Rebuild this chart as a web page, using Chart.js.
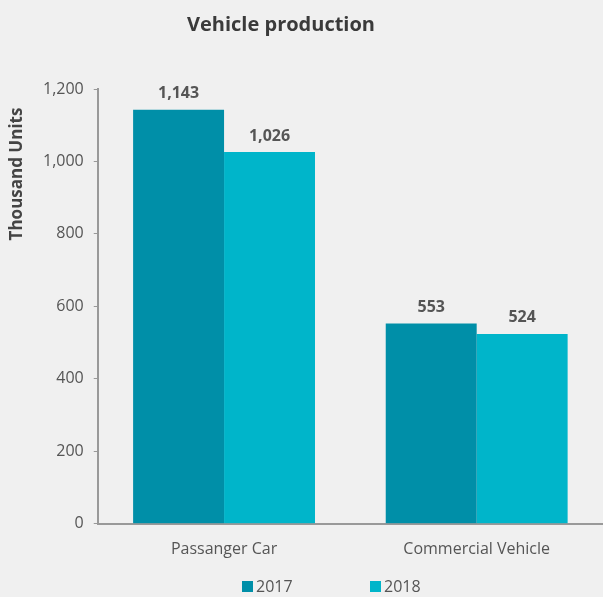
<!DOCTYPE html>
<html>
<head>
<meta charset="utf-8">
<script src="https://cdn.jsdelivr.net/npm/chart.js@4"></script>
<style>
  html, body { margin: 0; padding: 0; background: #f0f0f0; }
  #wrap { width: 603px; height: 597px; }
</style>
</head>
<body>
<div id="wrap"><canvas id="c"></canvas></div>
<script>
const categories = ["Passanger Car", "Commercial Vehicle"];
const years = ["2017", "2018"];
const values2017 = [1143, 553];
const values2018 = [1026, 524];
const colors = ["#008fa8", "#00b5ca"];

Chart.defaults.font.family = "'Open Sans', sans-serif";
Chart.defaults.color = "#555";

// value labels, title, axis title and legend drawn by hand so they sit where the original has them
const extras = {
  id: "extras",
  afterDatasetsDraw(chart) {
    let ctx = chart.ctx;
    ctx.save();
    ctx.font = "bold 16px 'Open Sans', sans-serif";
    ctx.fillStyle = "#555";
    ctx.textAlign = "center";
    ctx.textBaseline = "bottom";
    chart.data.datasets.forEach((ds, i) => {
      chart.getDatasetMeta(i).data.forEach((bar, j) => {
        ctx.fillText(ds.data[j].toLocaleString("en-US"), bar.x, bar.y - 8);
      });
    });

    ctx.font = "bold 20px 'Open Sans', sans-serif";
    ctx.fillStyle = "#3a3a3a";
    ctx.textBaseline = "middle";
    ctx.fillText("Vehicle production", 281, 25);

    ctx.save();
    ctx.translate(17, 174);
    ctx.rotate(-Math.PI / 2);
    ctx.font = "bold 17px 'Open Sans', sans-serif";
    ctx.fillStyle = "#444";
    ctx.fillText("Thousand Units", 0, 0);
    ctx.restore();

    ctx.font = "16px 'Open Sans', sans-serif";
    ctx.textAlign = "left";
    let lx = [242, 370];
    chart.data.datasets.forEach((ds, i) => {
      ctx.fillStyle = ds.backgroundColor;
      ctx.fillRect(lx[i], 581, 11, 11);
      ctx.fillStyle = "#555";
      ctx.fillText(ds.label, lx[i] + 14, 587);
    });
    ctx.restore();
  },
};

let ctx = document.getElementById("c").getContext("2d");
const myChart = new Chart(ctx, {
  type: "bar",
  data: {
    labels: categories,
    datasets: [
      { label: years[0], data: values2017, backgroundColor: colors[0] },
      { label: years[1], data: values2018, backgroundColor: colors[1] },
    ],
  },
  options: {
    responsive: true,
    maintainAspectRatio: false,
    animation: false,
    datasets: {
      bar: { barPercentage: 1, categoryPercentage: 0.72 },
    },
    layout: { padding: { top: 89, right: 0, left: 33, bottom: 30 } },
    plugins: {
      tooltip: { enabled: false },
      legend: { display: false },
    },
    scales: {
      x: {
        grid: { display: false },
        border: { color: "#999", width: 2 },
        ticks: { padding: 8, color: "#555", font: { size: 16 } },
      },
      y: {
        min: 0,
        max: 1200,
        border: { color: "#999", width: 2 },
        grid: { drawOnChartArea: false, tickLength: 4, color: "#999" },
        ticks: {
          stepSize: 200,
          padding: 10,
          color: "#555",
          font: { size: 16 },
          callback: (v) => v.toLocaleString("en-US"),
        },
      },
    },
  },
  plugins: [extras],
});
</script>
</body>
</html>
